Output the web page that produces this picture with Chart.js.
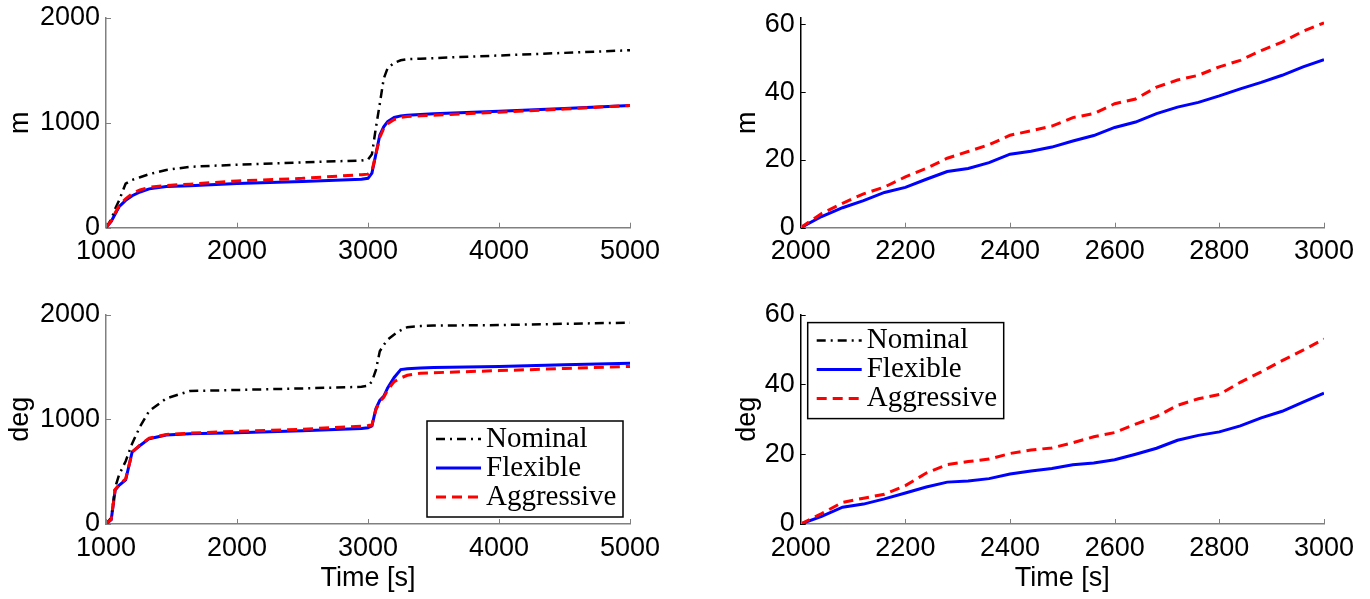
<!DOCTYPE html>
<html>
<head>
<meta charset="utf-8">
<script src="https://cdn.jsdelivr.net/npm/chart.js@4.4.1/dist/chart.umd.min.js"></script>
<style>
  html, body { margin: 0; padding: 0; background: #fff; }
  body { width: 1370px; height: 599px; position: relative; overflow: hidden; }
  canvas { position: absolute; }
</style>
</head>
<body>
<canvas id="dist-long"></canvas>
<canvas id="dist-zoom"></canvas>
<canvas id="angle-long"></canvas>
<canvas id="angle-zoom"></canvas>
<script>
// time axis of the long runs (left column) and of the zoomed window (right column)
const longTime = [1000, 1040, 1070, 1100, 1150, 1200, 1260, 1330, 1460, 1640, 2000, 2500, 2950,
  3000, 3030, 3060, 3090, 3120, 3150, 3200, 3250, 3300, 3400, 3500, 4000, 4500, 5000];
const zoomTime = [2000, 2040, 2080, 2120, 2160, 2200, 2240, 2280, 2320, 2360, 2400, 2440, 2480,
  2520, 2560, 2600, 2640, 2680, 2720, 2760, 2800, 2840, 2880, 2920, 2960, 3000];

const longTicks = [1000, 2000, 3000, 4000, 5000];
const zoomTicks = [2000, 2200, 2400, 2600, 2800, 3000];
const longValueTicks = [0, 1000, 2000];
const zoomValueTicks = [0, 20, 40, 60];

// distance [m], long run
const distNominal = [0, 80, 180, 260, 420, 455, 480, 510, 550, 580, 600, 622, 640,
  650, 700, 950, 1180, 1420, 1520, 1570, 1595, 1605, 1610, 1615, 1640, 1665, 1690];
const distFlexible = [0, 60, 130, 200, 260, 305, 340, 370, 392, 400, 420, 440, 462,
  470, 520, 700, 880, 960, 1010, 1050, 1065, 1072, 1078, 1085, 1110, 1135, 1165];
const distAggressive = [0, 65, 140, 210, 275, 325, 360, 385, 402, 415, 445, 470, 505,
  510, 540, 700, 860, 945, 990, 1030, 1050, 1058, 1065, 1070, 1100, 1130, 1165];

// angle [deg], long run
const angleNominal = [0, 60, 350, 470, 600, 770, 930, 1080, 1200, 1270, 1280, 1295, 1310,
  1320, 1360, 1470, 1650, 1710, 1760, 1810, 1850, 1880, 1890, 1895, 1900, 1912, 1923];
const angleFlexible = [0, 40, 325, 370, 420, 690, 750, 815, 850, 862, 872, 890, 912,
  920, 936, 1100, 1180, 1220, 1300, 1400, 1475, 1482, 1490, 1495, 1505, 1520, 1535];
const angleAggressive = [0, 45, 330, 375, 430, 685, 755, 820, 855, 868, 885, 905, 935,
  940, 945, 1090, 1170, 1210, 1280, 1360, 1395, 1420, 1440, 1445, 1465, 1485, 1505];

// zoomed window 2000-3000 s
const distZoomFlexible = [0, 3.3, 5.9, 8.0, 10.4, 11.9, 14.3, 16.6, 17.5, 19.2, 21.7, 22.6, 23.8,
  25.6, 27.2, 29.6, 31.2, 33.7, 35.6, 37.0, 38.9, 41.0, 42.9, 45.0, 47.5, 49.6];
const distZoomAggressive = [0, 4.2, 7.2, 10.0, 12.0, 15.0, 17.5, 20.5, 22.5, 24.5, 27.3, 28.6, 30.0,
  32.5, 33.7, 36.6, 38.0, 41.5, 43.6, 45.0, 47.5, 49.4, 52.3, 54.8, 58.0, 60.5];
const angleZoomFlexible = [0, 2.2, 4.8, 5.7, 7.2, 8.9, 10.6, 12.0, 12.3, 13.0, 14.3, 15.2, 15.9,
  17.0, 17.5, 18.4, 20.0, 21.7, 24.0, 25.4, 26.4, 28.1, 30.4, 32.3, 34.9, 37.5];
const angleZoomAggressive = [0, 3.0, 6.2, 7.4, 8.5, 11.0, 14.6, 17.0, 17.9, 18.6, 20.2, 21.2, 21.8,
  23.3, 25.0, 26.2, 28.6, 30.8, 34.0, 35.9, 37.1, 40.6, 43.6, 46.8, 49.8, 53.0];

const AXIS_FONT = { family: '"Liberation Sans", Arial, sans-serif', size: 27 };
const GREY = '#808080';

const styles = {
  Nominal: { borderColor: '#000', borderWidth: 2.5, borderDash: [9, 5, 2, 5], order: 1 },
  Flexible: { borderColor: '#0000ff', borderWidth: 3, borderDash: [], order: 2 },
  Aggressive: { borderColor: '#ff0000', borderWidth: 3, borderDash: [10, 6], order: 0 },
};

// MATLAB style ticks pointing into the axes
const inwardTicks = {
  id: 'inwardTicks',
  afterDatasetsDraw(chart) {
    const { ctx, chartArea: a, scales: { x, y } } = chart;
    ctx.save();
    ctx.lineWidth = 1;
    ctx.strokeStyle = x.options.border.color;
    x.ticks.forEach(t => {
      const px = Math.round(x.getPixelForValue(t.value)) + 0.5;
      ctx.beginPath(); ctx.moveTo(px, a.bottom); ctx.lineTo(px, a.bottom - 5); ctx.stroke();
    });
    ctx.strokeStyle = y.options.border.color;
    y.ticks.forEach(t => {
      const py = Math.round(y.getPixelForValue(t.value)) + 0.5;
      ctx.beginPath(); ctx.moveTo(a.left, py); ctx.lineTo(a.left + 5, py); ctx.stroke();
    });
    ctx.restore();
  },
};

// boxed legend inside the axes
const boxLegend = {
  id: 'boxLegend',
  afterDraw(chart, args, opts) {
    if (!opts.corner) return;
    const { ctx, chartArea: a } = chart;
    const w = 196, h = 96;
    const bx = opts.corner === 'br' ? a.right - 7 - w : a.left + 7;
    const by = opts.corner === 'br' ? a.bottom - 7 - h : a.top + 8;
    ctx.save();
    ctx.fillStyle = '#fff';
    ctx.fillRect(bx, by, w, h);
    ctx.strokeStyle = '#000';
    ctx.lineWidth = 1.5;
    ctx.strokeRect(bx, by, w, h);
    ctx.font = '29px "Liberation Serif", "DejaVu Serif", serif';
    ctx.textBaseline = 'middle';
    chart.data.datasets.forEach((ds, i) => {
      const cy = by + 18 + i * 29;
      ctx.setLineDash(ds.borderDash || []);
      ctx.strokeStyle = ds.borderColor;
      ctx.lineWidth = ds.borderWidth;
      ctx.beginPath(); ctx.moveTo(bx + 9, cy); ctx.lineTo(bx + 54, cy); ctx.stroke();
      ctx.setLineDash([]);
      ctx.fillStyle = '#000';
      ctx.fillText(ds.label, bx + 59, cy);
    });
    ctx.restore();
  },
};

function makePanel(id, p) {
  const canvas = document.getElementById(id);
  canvas.width = p.w;
  canvas.height = p.h;
  canvas.style.left = p.left + 'px';
  canvas.style.top = p.top + 'px';

  const datasets = p.series.map(s => ({
    label: s.label,
    data: s.values.map((v, i) => ({ x: p.time[i], y: v })),
    pointRadius: 0,
    fill: false,
    tension: 0,
    ...styles[s.label],
  }));

  return new Chart(canvas, {
    type: 'line',
    data: { datasets },
    plugins: [inwardTicks, boxLegend],
    options: {
      responsive: false,
      animation: false,
      devicePixelRatio: 1,
      layout: { padding: { left: 0, top: p.padTop, right: p.padRight, bottom: 0 } },
      plugins: {
        legend: { display: false },
        tooltip: { enabled: false },
        boxLegend: { corner: p.legend },
      },
      scales: {
        x: {
          type: 'linear',
          min: p.xTicks[0],
          max: p.xTicks[p.xTicks.length - 1],
          afterBuildTicks: s => { s.ticks = p.xTicks.map(v => ({ value: v })); },
          afterFit: s => { s.height = p.xHeight; s.paddingLeft = 0; s.paddingRight = 0; },
          grid: { display: false, drawTicks: false },
          border: { display: true, color: GREY, width: 1.5 },
          ticks: { font: AXIS_FONT, color: '#000', padding: 8, maxRotation: 0, autoSkip: false, callback: v => String(v) },
          title: { display: !!p.xTitle, text: p.xTitle, font: AXIS_FONT, color: '#000', padding: { top: 0, bottom: 4 } },
        },
        y: {
          type: 'linear',
          min: 0,
          max: p.yMax,
          afterBuildTicks: s => { s.ticks = p.yTicks.map(v => ({ value: v })); },
          afterFit: s => { s.width = p.yWidth; s.paddingTop = 0; s.paddingBottom = 0; },
          grid: { display: false, drawTicks: false },
          border: { display: true, color: p.yAxisColor, width: 1.5 },
          ticks: { font: AXIS_FONT, color: '#000', padding: 6, callback: v => String(v) },
          title: { display: true, text: p.yTitle, font: AXIS_FONT, color: '#000', padding: { top: 4, bottom: 0 } },
        },
      },
    },
  });
}

makePanel('dist-long', {
  left: 0, top: 0, w: 685, h: 300, padTop: 17.7, padRight: 55, yWidth: 106, xHeight: 72.3,
  time: longTime, xTicks: longTicks, yTicks: longValueTicks, yMax: 2000, yTitle: 'm', yAxisColor: GREY,
  series: [
    { label: 'Nominal', values: distNominal },
    { label: 'Flexible', values: distFlexible },
    { label: 'Aggressive', values: distAggressive },
  ],
});

makePanel('dist-zoom', {
  left: 727, top: 0, w: 643, h: 300, padTop: 17.7, padRight: 46, yWidth: 73.7, xHeight: 72.3,
  time: zoomTime, xTicks: zoomTicks, yTicks: zoomValueTicks, yMax: 62, yTitle: 'm', yAxisColor: '#000',
  series: [
    { label: 'Flexible', values: distZoomFlexible },
    { label: 'Aggressive', values: distZoomAggressive },
  ],
});

makePanel('angle-long', {
  left: 0, top: 300, w: 685, h: 299, padTop: 14.6, padRight: 55, yWidth: 106, xHeight: 75,
  time: longTime, xTicks: longTicks, yTicks: longValueTicks, yMax: 2000, yTitle: 'deg', yAxisColor: GREY,
  xTitle: 'Time [s]', legend: 'br',
  series: [
    { label: 'Nominal', values: angleNominal },
    { label: 'Flexible', values: angleFlexible },
    { label: 'Aggressive', values: angleAggressive },
  ],
});

makePanel('angle-zoom', {
  left: 727, top: 300, w: 643, h: 299, padTop: 14.6, padRight: 46, yWidth: 73.7, xHeight: 75,
  time: zoomTime, xTicks: zoomTicks, yTicks: zoomValueTicks, yMax: 60, yTitle: 'deg', yAxisColor: '#000',
  xTitle: 'Time [s]', legend: 'tl',
  series: [
    { label: 'Nominal', values: [] },
    { label: 'Flexible', values: angleZoomFlexible },
    { label: 'Aggressive', values: angleZoomAggressive },
  ],
});
</script>
</body>
</html>
